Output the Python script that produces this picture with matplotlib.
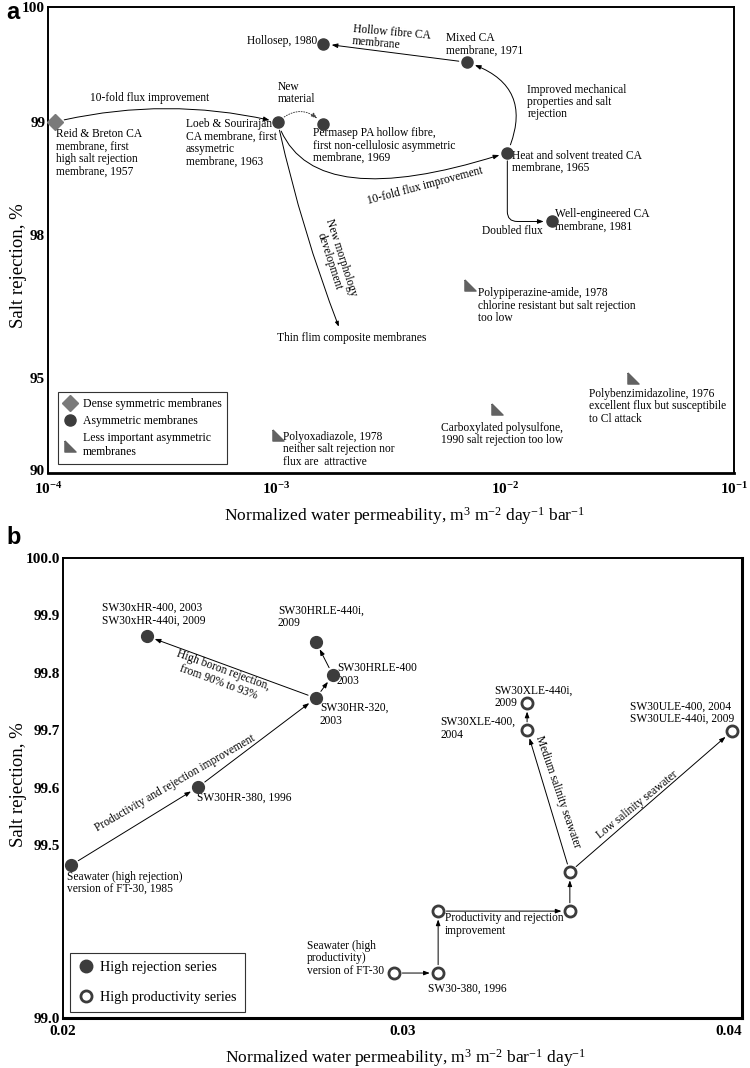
import numpy as np
import matplotlib
matplotlib.use('Agg')
import matplotlib.pyplot as plt
from matplotlib.lines import Line2D
from matplotlib.transforms import ScaledTranslation

plt.rcParams['font.family'] = ['Liberation Serif', 'DejaVu Serif']
plt.rcParams['mathtext.default'] = 'regular'

# ---------------- panel a data ----------------
dense_x = [1.07e-4]
dense_y = [99.0]
dense_labels = ['Reid & Breton CA\nmembrane, first\nhigh salt rejection\nmembrane, 1957']

asym_x = [1.01e-3, 1.6e-3, 1.6e-3, 6.8e-3, 1.02e-2, 1.6e-2]
asym_y = [99.0, 98.98, 99.68, 99.52, 98.73, 98.12]
asym_labels = ['Loeb & Sourirajan\nCA membrane, first\nassymetric\nmembrane, 1963',
               'Permasep PA hollow fibre,\nfirst non-cellulosic asymmetric\nmembrane, 1969',
               'Hollosep, 1980',
               'Mixed CA\nmembrane, 1971',
               'Heat and solvent treated CA\nmembrane, 1965',
               'Well-engineered CA\nmembrane, 1981']

less_x = [7.0e-3, 3.6e-2, 9.2e-3, 1.01e-3]
less_y = [96.95, 95.0, 93.37, 92.0]
less_labels = ['Polypiperazine-amide, 1978\nchlorine resistant but salt rejection\ntoo low',
               'Polybenzimidazoline, 1976\nexcellent flux but susceptibile\nto Cl attack',
               'Carboxylated polysulfone,\n1990 salt rejection too low',
               'Polyoxadiazole, 1978\nneither salt rejection nor\nflux are  attractive']

a_yticks = [90, 95, 98, 99, 100]
a_xticks = [1e-4, 1e-3, 1e-2, 1e-1]
a_xticklabels = ['10$^{-4}$', '10$^{-3}$', '10$^{-2}$', '10$^{-1}$']

# ---------------- panel b data ----------------
hr_x = [0.02024, 0.02398, 0.02745, 0.02795, 0.02745, 0.02247]
hr_y = [99.442, 99.601, 99.756, 99.796, 99.854, 99.864]
hr_labels = ['Seawater (high rejection)\nversion of FT-30, 1985',
             'SW30HR-380, 1996',
             'SW30HR-320,\n2003',
             'SW30HRLE-400\n2003',
             'SW30HRLE-440i,\n2009',
             'SW30xHR-400, 2003\nSW30xHR-440i, 2009']
hr_links = [(0, 1), (1, 2), (2, 5), (2, 3), (3, 4)]

hp_x = [0.02975, 0.03105, 0.03105, 0.03493, 0.03493, 0.03367, 0.03367, 0.0397]
hp_y = [99.13, 99.13, 99.309, 99.309, 99.422, 99.70, 99.747, 99.698]
hp_labels = ['Seawater (high\nproductivity)\nversion of FT-30',
             'SW30-380, 1996',
             'Productivity and rejection\nimprovement',
             '', '',
             'SW30XLE-400,\n2004',
             'SW30XLE-440i,\n2009',
             'SW30ULE-400, 2004\nSW30ULE-440i, 2009']
hp_links = [(0, 1), (1, 2), (2, 3), (3, 4), (4, 5), (5, 6), (4, 7)]

b_yticks = [99.0, 99.5, 99.6, 99.7, 99.8, 99.9, 100.0]
b_xticks = [0.02, 0.03, 0.04]

# ---------------- styles ----------------
c_circle = '#3c3c3c'
c_diamond = '#7a7a7a'
c_tri = '#626262'
fs = 8.3
tri = [(-1, 1), (-1, -1), (1, -1), (-1, 1)]


def piecewise(vals, pos):
    vals = np.asarray(vals, float)
    pos = np.asarray(pos, float)
    return (lambda v: np.interp(v, vals, pos)), (lambda p: np.interp(p, pos, vals))


def label(ax, txt, pt, dx, dy, ha='left', va='top', **kw):
    ax.annotate(txt, xy=pt, xytext=(dx, dy), textcoords='offset pixels',
                ha=ha, va=va, fontsize=kw.pop('size', fs), linespacing=1.05, **kw)


def arrow(ax, p0, p1, cs='arc3', ls='-', sa=6, sb=6, color='black'):
    ax.annotate('', xy=p1, xytext=p0,
                arrowprops=dict(arrowstyle='-|>,head_length=0.35,head_width=0.13',
                                color=color, lw=0.7, ls=ls, connectionstyle=cs,
                                shrinkA=sa, shrinkB=sb))


fig = plt.figure(figsize=(7.5, 10.68), dpi=100)

# ======================= panel a =======================
ax = fig.add_axes([0.064, 0.5571, 0.9147, 0.4363])
ax.set_xscale('log')
ax.set_yscale('function', functions=piecewise(a_yticks, [0, 95, 238, 351, 466]))
ax.set_xlim(1e-4, 1e-1)
ax.set_ylim(90, 100)

ax.plot(dense_x, dense_y, ls='none', marker='D', ms=8, color=c_diamond, clip_on=False, zorder=5)
ax.plot(asym_x, asym_y, ls='none', marker='o', ms=8, color=c_circle, zorder=5)
ax.plot(less_x, less_y, ls='none', marker=tri, ms=8, color=c_tri, zorder=5)

reid = (dense_x[0], dense_y[0])
loeb, perm, holl, mixed, heat, well = list(zip(asym_x, asym_y))

label(ax, dense_labels[0], reid, 1, -6)
a_offsets = [(-92, 4, 'left', 'top'), (-10, -3, 'left', 'top'), (-6, 3, 'right', 'center'),
             (-21, 30, 'left', 'top'), (5, 3, 'left', 'top'), (3, 13, 'left', 'top')]
for txt, pt, (dx, dy, ha, va) in zip(asym_labels, zip(asym_x, asym_y), a_offsets):
    label(ax, txt, pt, dx, dy, ha=ha, va=va)
less_offsets = [(8, -2), (-44, -10), (-56, -13), (5, 4)]
for txt, pt, (dx, dy) in zip(less_labels, zip(less_x, less_y), less_offsets):
    label(ax, txt, pt, dx, dy)

# development paths
arrow(ax, reid, loeb, cs='arc3,rad=-0.12', sa=7)
label(ax, '10-fold flux improvement', reid, 95, 24, ha='center', va='center')
arrow(ax, loeb, perm, cs='arc3,rad=-0.5', ls=':', color='#444444')
label(ax, 'New\nmaterial', loeb, 0, 41)
arrow(ax, loeb, heat, cs='angle3,angleA=-72,angleB=18', sa=7)
label(ax, '10-fold flux improvement', heat, -82, -33, ha='center', va='center',
      rotation=15, rotation_mode='anchor')
ax.annotate('Thin flim composite membranes', xy=loeb, xytext=(-1, -216),
            textcoords='offset pixels', ha='left', va='center', fontsize=fs,
            arrowprops=dict(arrowstyle='<|-,head_length=0.35,head_width=0.13', color='black',
                            lw=0.7, relpos=(0.43, 1.0), shrinkA=2, shrinkB=6,
                            connectionstyle='arc3,rad=-0.04'))
label(ax, 'New morphology\ndevelopment', loeb, 58, -137, ha='center', va='center',
      rotation=-72, rotation_mode='anchor')
arrow(ax, heat, mixed, cs='arc3,rad=0.55')
label(ax, 'Improved mechanical\nproperties and salt\nrejection', heat, 20, 69)
arrow(ax, mixed, holl)
label(ax, 'Hollow fibre CA\nmembrane', holl, 30, 21, rotation=-5, rotation_mode='anchor')
arrow(ax, heat, well, cs='angle,angleA=-90,angleB=0,rad=10')
label(ax, 'Doubled flux', well, -40, -10, ha='center', va='center')

ax.set_xticks(a_xticks)
ax.set_xticklabels(a_xticklabels)
ax.xaxis.set_minor_locator(matplotlib.ticker.NullLocator())
ax.set_yticks(a_yticks)
ax.set_yticklabels([str(v) for v in a_yticks])
ax.tick_params(length=0, labelsize=11, pad=6)
ax.tick_params(axis='y', pad=2)
for t in ax.get_xticklabels() + ax.get_yticklabels():
    t.set_fontweight('bold')
# lift the bottom y label a little so it clears the first x label
lab90 = ax.yaxis.get_major_ticks()[0].label1
lab90.set_transform(lab90.get_transform() + ScaledTranslation(0, 3 / 100, fig.dpi_scale_trans))
ax.set_xlabel('Normalized water permeability, m$^3$ m$^{-2}$ day$^{-1}$ bar$^{-1}$', fontsize=12.5)
ax.set_ylabel('Salt rejection, %', fontsize=13.5)
ax.xaxis.set_label_coords(0.52, -0.068)
ax.yaxis.set_label_coords(-0.031, 0.446)
for s in ax.spines.values():
    s.set_linewidth(1.4)
ax.spines['bottom'].set_linewidth(2)

handles = [Line2D([], [], ls='none', marker='D', ms=8, color=c_diamond),
           Line2D([], [], ls='none', marker='o', ms=8, color=c_circle),
           Line2D([], [], ls='none', marker=tri, ms=8, color=c_tri)]
leg = ax.legend(handles, ['Dense symmetric membranes', 'Asymmetric membranes',
                          'Less important asymmetric\nmembranes'],
                loc='lower left', bbox_to_anchor=(0.0146, 0.019), borderaxespad=0,
                fancybox=False, edgecolor='#333333', framealpha=1, fontsize=8.5,
                handlelength=1.0, handletextpad=0.6, labelspacing=0.45, borderpad=0.5)
leg.get_frame().set_linewidth(0.8)

fig.text(0.008, 0.988, 'a', fontsize=17, fontweight='bold', family='Liberation Sans', va='center')

# ======================= panel b =======================
bx = fig.add_axes([0.084, 0.0468, 0.9053, 0.4307])
bx.set_yscale('function', functions=piecewise([99.0, 99.5, 100.0], [0, 173, 460]))
bx.set_xlim(0.02, 0.04)
bx.set_ylim(99.0, 100.0)

bx.plot(hr_x, hr_y, ls='none', marker='o', ms=8.5, color=c_circle, zorder=5)
bx.plot(hp_x, hp_y, ls='none', marker='o', ms=8, mfc='white', mec=c_circle, mew=2, zorder=5)

for i, j in hr_links:
    arrow(bx, (hr_x[i], hr_y[i]), (hr_x[j], hr_y[j]), sa=6, sb=6)
for i, j in hp_links:
    arrow(bx, (hp_x[i], hp_y[i]), (hp_x[j], hp_y[j]), sa=6, sb=6)

hr_offsets = [(-4, -6), (-1, -5), (4, -4), (4, 13), (-38, 37), (-45, 34)]
for txt, pt, (dx, dy) in zip(hr_labels, zip(hr_x, hr_y), hr_offsets):
    label(bx, txt, pt, dx, dy)
hp_offsets = [(-87, 33), (-10, -10), (7, -1), (0, 0), (0, 0), (-87, 14), (-33, 19), (-102, 31)]
for txt, pt, (dx, dy) in zip(hp_labels, zip(hp_x, hp_y), hp_offsets):
    if txt:
        label(bx, txt, pt, dx, dy)

p_hr320 = (hr_x[2], hr_y[2])
p_hr380 = (hr_x[1], hr_y[1])
p_corner = (hp_x[4], hp_y[4])
label(bx, 'High boron rejection,\nfrom 90% to 93%', p_hr320, -95, 22, ha='center', va='center',
      rotation=-20, rotation_mode='anchor', multialignment='center')
label(bx, 'Productivity and rejection improvement', p_hr380, -23, 4, ha='center', va='center',
      rotation=30, rotation_mode='anchor')
label(bx, 'Medium salinity seawater', p_corner, -12, 80, ha='center', va='center',
      rotation=-71, rotation_mode='anchor')
label(bx, 'Low salinity seawater', p_corner, 67, 67, ha='center', va='center',
      rotation=39, rotation_mode='anchor')

bx.set_xticks(b_xticks)
bx.set_xticklabels(['%.2f' % v for v in b_xticks])
bx.set_yticks(b_yticks)
bx.set_yticklabels(['%.1f' % v for v in b_yticks])
bx.tick_params(length=0, labelsize=11, pad=5)
bx.tick_params(axis='y', pad=2)
for t in bx.get_xticklabels() + bx.get_yticklabels():
    t.set_fontweight('bold')
bx.get_xticklabels()[-1].set_ha('right')
bx.set_xlabel('Normalized water permeability, m$^3$ m$^{-2}$ bar$^{-1}$ day$^{-1}$', fontsize=12.5)
bx.set_ylabel('Salt rejection, %', fontsize=13.5)
bx.xaxis.set_label_coords(0.504, -0.064)
bx.yaxis.set_label_coords(-0.053, 0.507)
for s in bx.spines.values():
    s.set_linewidth(1.4)
bx.spines['bottom'].set_linewidth(2.2)
bx.spines['right'].set_linewidth(2.2)

handles_b = [Line2D([], [], ls='none', marker='o', ms=9, color=c_circle),
             Line2D([], [], ls='none', marker='o', ms=8, mfc='white', mec=c_circle, mew=2)]
leg_b = bx.legend(handles_b, ['High rejection series', 'High productivity series'],
                  loc='lower left', bbox_to_anchor=(0.0103, 0.013), borderaxespad=0,
                  fancybox=False, edgecolor='#333333', framealpha=1, fontsize=10.2,
                  handlelength=1.0, handletextpad=0.5, labelspacing=1.15, borderpad=0.6)
leg_b.get_frame().set_linewidth(0.8)

fig.text(0.008, 0.497, 'b', fontsize=17, fontweight='bold', family='Liberation Sans', va='center')

fig.savefig('out.png', dpi=100)
